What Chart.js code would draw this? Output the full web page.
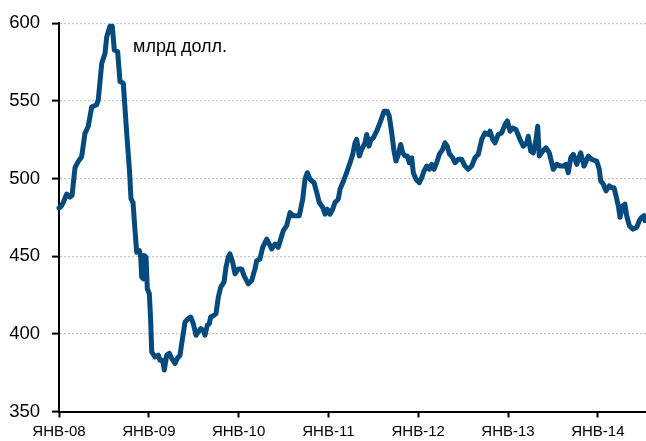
<!DOCTYPE html>
<html>
<head>
<meta charset="utf-8">
<script src="https://cdn.jsdelivr.net/npm/chart.js@4/dist/chart.umd.min.js"></script>
<style>
  html, body { margin: 0; padding: 0; background: #fff; }
  #wrap { width: 646px; height: 441px; position: relative; }
</style>
</head>
<body>
<div id="wrap"><canvas id="c" width="646" height="441"></canvas></div>
<script>
// Months since January 2008
const months = [
  0, 0.27, 0.57, 1.03, 1.47, 1.74, 2.14, 2.58, 3.03, 3.47, 3.91, 4.37, 5.04, 5.25, 5.71, 6.15, 6.37, 6.81, 7.12, 7.39,
  7.84, 8.15, 8.59, 9.05, 9.42, 9.62, 9.89, 10.16, 10.38, 10.73, 10.92, 11.05, 11.27, 11.36, 11.63, 11.80, 12.07, 12.25, 12.39, 12.83,
  13.27, 13.50, 13.86, 14.07, 14.39, 14.74, 15.06, 15.50, 15.81, 16.17, 16.40, 16.61, 16.84, 17.28, 17.60, 17.95, 18.31, 18.61, 18.94, 19.28,
  19.51, 19.82, 20.09, 20.27, 20.71, 20.98, 21.29, 21.61, 22.05, 22.32, 22.62, 22.85, 23.21, 23.52, 23.96, 24.41, 24.72, 25.30, 25.75, 26.19,
  26.42, 26.86, 27.22, 27.76, 28.10, 28.42, 28.86, 29.30, 29.63, 29.97, 30.43, 30.87, 31.23, 31.67, 32.11, 32.57, 32.87, 33.18, 33.54, 34.08,
  34.44, 34.78, 35.24, 35.55, 35.85, 36.21, 36.57, 36.88, 37.32, 37.55, 37.99, 38.45, 38.89, 39.25, 39.55, 39.78, 40.13, 40.45, 40.89, 41.12,
  41.43, 41.69, 42.00, 42.45, 42.80, 43.12, 43.43, 43.87, 44.14, 44.46, 44.77, 45.03, 45.34, 45.66, 45.93, 46.24, 46.54, 46.81, 47.13, 47.35,
  47.71, 48.15, 48.47, 48.78, 49.14, 49.48, 49.80, 50.11, 50.47, 50.82, 51.27, 51.58, 51.89, 52.16, 52.61, 52.92, 53.36, 53.81, 54.25, 54.69,
  55.15, 55.59, 56.03, 56.49, 56.93, 57.37, 57.60, 57.96, 58.26, 58.70, 59.16, 59.60, 59.91, 60.27, 60.63, 61.07, 61.61, 62.04, 62.50, 62.71,
  63.03, 63.38, 63.74, 63.97, 64.18, 64.64, 65.08, 65.52, 66.05, 66.51, 66.95, 67.39, 67.75, 68.06, 68.38, 68.73, 69.18, 69.71, 70.16, 70.73,
  71.18, 71.85, 72.20, 72.39, 72.74, 73.10, 73.54, 73.86, 74.16, 74.43, 74.74, 74.97, 75.33, 75.63, 75.86, 76.21, 76.66, 77.20, 77.55, 77.87,
  78.17, 78.31
];
// Reserves, billion USD
const reserves = [
  481, 482, 484.5, 490, 488, 489, 507, 511, 514, 529, 533.6, 546, 547.5, 550.7, 574, 580.5, 591, 598, 598, 582.7,
  581.6, 562.4, 561.3, 529, 505, 487, 484.5, 466.4, 452.5, 453.6, 449.3, 436.5, 435.4, 450.4, 449.3, 429, 425.8, 408.7, 388.4, 385.2,
  386.3, 383, 383, 376.7, 386.3, 387.4, 384.2, 381, 384.2, 386.3, 393.8, 400.2, 407.6, 409.8, 410.8, 406.6, 399.1, 401.2, 403.4, 402.3,
  399.1, 405.5, 406.6, 410.8, 411.9, 413, 423.6, 430, 433.3, 442.9, 449.3, 451.4, 446, 438.6, 441.8, 441.8, 437.5, 432.2, 434.3, 441.8,
  447.1, 448.2, 455.7, 461, 457.8, 454.6, 457.8, 455.7, 461, 466.4, 469.6, 478, 476, 476, 476, 486.7, 499.5, 503.7, 499.5, 497.3,
  491, 484.5, 481.3, 477, 480.2, 477, 480.2, 484.5, 486.7, 493, 498, 504, 510, 515.5, 522.9, 525.1, 514.4, 518.7, 522.9, 528.3,
  520.8, 525.1, 526.1, 530.4, 534.7, 538.9, 543.2, 543.2, 540, 529.3, 517.6, 511.2, 515.5, 521.9, 516.5, 514.4, 514.4, 510.1, 513.3, 503.7,
  499.5, 497.3, 500.5, 504.8, 508, 505.9, 509.1, 505.9, 510.1, 515.5, 518.7, 522.9, 520.8, 516, 513.3, 510.1, 512.3, 512.3, 508, 505.9,
  508, 513.3, 515.5, 525.1, 529.3, 528.3, 530.4, 525.1, 522.9, 528.3, 529.3, 534.7, 537, 530.4, 532.5, 531.5, 525.1, 520.8, 522.9, 527.2,
  517.6, 516.5, 525.1, 533.6, 514.4, 517.6, 519.7, 516.5, 505.9, 509.1, 508, 508, 509.1, 503.7, 513.3, 515.5, 509.1, 516.5, 508, 514.4,
  512.3, 511.2, 505.9, 498.4, 496.3, 492, 495.2, 494.1, 494.1, 488.8, 482.4, 475, 482.4, 483.4, 476, 469.6, 467.4, 468.5, 472.8, 475,
  476, 472.8
];
const tickLabels = ['ЯНВ-08', 'ЯНВ-09', 'ЯНВ-10', 'ЯНВ-11', 'ЯНВ-12', 'ЯНВ-13', 'ЯНВ-14'];
const unitLabel = 'млрд долл.';

const points = months.map((m, i) => ({ x: m, y: reserves[i] }));

const unitPlugin = {
  id: 'unitLabel',
  afterDraw(chart) {
    const ctx = chart.ctx;
    ctx.save();
    ctx.font = '18px "Liberation Sans", Arial, sans-serif';
    ctx.fillStyle = '#000';
    ctx.textAlign = 'left';
    ctx.textBaseline = 'alphabetic';
    ctx.fillText(unitLabel, 133, 52);
    ctx.restore();
  }
};

new Chart(document.getElementById('c'), {
  type: 'line',
  data: {
    datasets: [{
      data: points,
      borderColor: '#044a7c',
      borderWidth: 5,
      pointRadius: 0,
      tension: 0,
      borderJoinStyle: 'round',
      borderCapStyle: 'round',
      clip: false
    }]
  },
  options: {
    responsive: false,
    animation: false,
    devicePixelRatio: 1,
    layout: { padding: { top: 21, right: 0, left: 0, bottom: 0 } },
    plugins: { legend: { display: false }, tooltip: { enabled: false } },
    scales: {
      x: {
        type: 'linear',
        min: 0,
        max: 78.44,
        afterFit(s) { s.height = 29.5; },
        border: { display: true, color: '#000', width: 2 },
        grid: { drawOnChartArea: false, drawTicks: true, tickLength: 6, tickColor: '#000', tickWidth: 2 },
        ticks: {
          stepSize: 12,
          includeBounds: false,
          autoSkip: false,
          maxRotation: 0,
          padding: 5,
          color: '#000',
          font: { family: '"Liberation Sans", Arial, sans-serif', size: 15 },
          callback: (v) => tickLabels[Math.round(v / 12)] || ''
        }
      },
      y: {
        min: 350,
        max: 600,
        afterFit(s) { s.width = 59; },
        border: { display: true, color: '#000', width: 2, dash: [2, 2] },
        grid: {
          color: (c) => c.tick && c.tick.value === 350 ? 'rgba(0,0,0,0)' : '#c4c4c4',
          lineWidth: 1.2,
          drawTicks: true,
          tickLength: 7,
          tickColor: '#000',
          tickWidth: 2
        },
        ticks: {
          stepSize: 50,
          padding: 12,
          color: '#000',
          font: { family: '"Liberation Sans", Arial, sans-serif', size: 18.5 }
        }
      }
    }
  },
  plugins: [unitPlugin]
});
</script>
</body>
</html>
